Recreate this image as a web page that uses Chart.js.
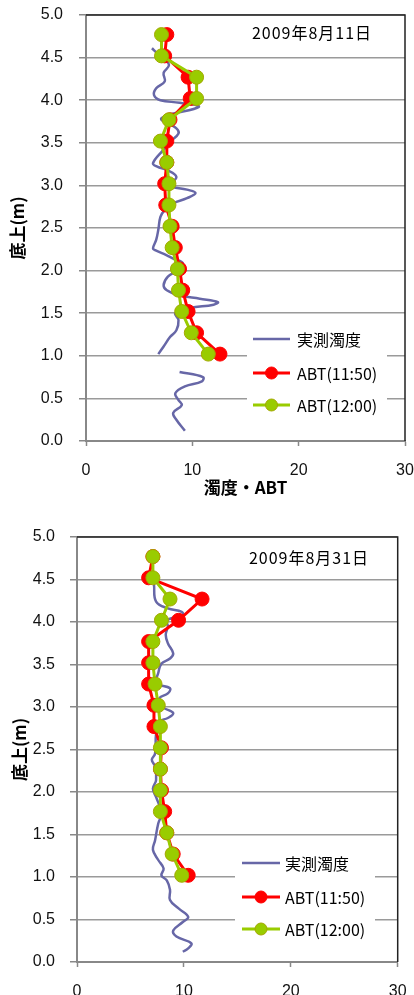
<!DOCTYPE html>
<html lang="ja">
<head>
<meta charset="utf-8">
<title>濁度・ABT</title>
<script src="https://cdn.jsdelivr.net/npm/chart.js@4.4.1/dist/chart.umd.min.js"></script>
<style>
  html, body { margin: 0; padding: 0; background: #fff; overflow: hidden; }
  body { width: 414px; height: 995px; position: relative; }
  .chart-box { position: absolute; left: 0; width: 414px; height: 510px; }
  #box1 { top: 0; }
  #box2 { top: 522px; }
</style>
</head>
<body>
<div class="chart-box" id="box1"><canvas id="chart1" width="414" height="510"></canvas></div>
<div class="chart-box" id="box2"><canvas id="chart2" width="414" height="510"></canvas></div>
<script>
// ABT sampling heights (m above bottom), shared by both days
const abtHeights = [4.77, 4.52, 4.27, 4.02, 3.77, 3.52, 3.27, 3.02, 2.77, 2.52, 2.27, 2.02, 1.77, 1.52, 1.27, 1.02];

// 2009-08-11
const abt1150_0811 = [7.6, 7.4, 9.6, 9.8, 7.9, 7.6, 7.6, 7.4, 7.5, 8.1, 8.4, 8.8, 9.1, 9.6, 10.4, 12.6];
const abt1200_0811 = [7.1, 7.1, 10.4, 10.4, 7.8, 7.0, 7.6, 7.8, 7.8, 7.9, 8.1, 8.6, 8.7, 9.0, 9.9, 11.5];
// measured turbidity profile (null = no data)
const turbHeights_0811 = [4.61, 4.55, 4.48, 4.41, 4.32, 4.22, 4.14, 4.06, 4.00, 3.97, 3.92, 3.79, 3.67, 3.61, 3.51, 3.42,
  3.26, 3.22, 3.18, 3.10, 3.00, 2.95, 2.91, 2.85, 2.79, 2.71, 2.63, 2.48, 2.36, 2.26, 2.24, 2.18, 2.14, 2.10, 2.05,
  1.99, 1.93, 1.83, 1.77, 1.71, 1.67, 1.63, 1.60, 1.56, 1.50, 1.42, 1.30, 1.22, 1.11, 1.02, null,
  0.81, 0.75, 0.70, 0.64, 0.56, 0.48, 0.42, 0.33, 0.25, 0.12];
const turb_0811 = [6.2, 6.7, 7.4, 7.8, 7.3, 7.4, 6.6, 6.4, 7.0, 8.8, 10.6, 7.1, 8.5, 8.7, 7.9, 7.3,
  6.3, 6.7, 7.6, 8.5, 7.9, 9.5, 10.3, 9.5, 8.2, 7.4, 7.0, 6.8, 6.6, 6.3, 6.5, 7.6, 8.2, 9.0, 9.1,
  8.5, 7.7, 7.3, 7.6, 8.8, 10.7, 12.4, 12.0, 9.8, 8.4, 8.7, 8.5, 7.9, 7.3, 6.8, null,
  8.8, 11.0, 10.9, 9.3, 8.4, 8.7, 9.0, 8.2, 8.5, 9.3];

// 2009-08-31
const abt1150_0831 = [7.1, 6.7, 11.7, 9.5, 6.7, 6.7, 6.7, 7.2, 7.2, 7.9, 7.8, 7.9, 8.2, 8.4, 9.0, 10.4];
const abt1200_0831 = [7.1, 7.1, 8.7, 7.9, 7.1, 7.1, 7.3, 7.6, 7.8, 7.8, 7.8, 7.8, 7.8, 8.4, 8.9, 9.8];
const turbHeights_0831 = [4.44, 4.24, 4.16, 4.12, 4.08, 4.02, 3.95, 3.85, 3.75, 3.63, 3.57, 3.51, 3.40, 3.28, 3.22,
  3.16, 3.10, 3.00, 2.93, 2.87, 2.83, 2.69, 2.45, 2.38, 2.30, 2.14, 2.04, 1.94, 1.75, 1.63, 1.43, 1.32, 1.20,
  1.10, 1.02, 0.96, 0.85, 0.73, 0.63, 0.53, 0.47, 0.37, 0.30, 0.22, 0.16, 0.12];
const turb_0831 = [7.2, 7.4, 8.5, 9.8, 9.9, 8.4, 8.5, 8.3, 8.5, 9.0, 8.7, 7.9, 7.6, 7.4, 8.7,
  8.5, 7.7, 8.0, 9.0, 8.5, 7.7, 7.4, 7.3, 7.0, 7.3, 7.4, 7.1, 7.4, 7.9, 7.6, 7.3, 7.1, 7.6,
  8.1, 7.9, 8.4, 8.7, 8.7, 9.5, 10.4, 9.9, 9.0, 9.3, 10.7, 10.4, 9.9];

const xTicks = [0, 10, 20, 30];
const yTicks = [0, 0.5, 1, 1.5, 2, 2.5, 3, 3.5, 4, 4.5, 5];

const seriesNames = ['実測濁度', 'ABT(11:50)', 'ABT(12:00)'];

const toPoints = (xs, ys) => ys.map((y, i) => ({ x: xs[i], y: y }));

const jpFont = '"Noto Sans CJK JP", "Noto Sans", sans-serif';
const numFont = '"Liberation Sans", Arial, sans-serif';

// draws date label, in-plot legend and the frame (top/right)
const decoPlugin = {
    id: 'deco',
    beforeDatasetsDraw(chart, args, opts) {
        const { ctx } = chart;
        const L = opts.legend;
        ctx.save();
        ctx.fillStyle = '#ffffff';
        ctx.fillRect(L.x, L.y, L.w, L.h);

        chart.data.datasets.forEach((ds, i) => {
            const y = L.rows[i];
            ctx.strokeStyle = ds.borderColor;
            ctx.lineWidth = ds.borderWidth;
            ctx.beginPath();
            ctx.moveTo(L.lineX0, y);
            ctx.lineTo(L.lineX1, y);
            ctx.stroke();
            if (ds.pointRadius > 0) {
                ctx.fillStyle = ds.pointBackgroundColor;
                ctx.strokeStyle = ds.pointBorderColor;
                ctx.lineWidth = 1;
                ctx.beginPath();
                ctx.arc((L.lineX0 + L.lineX1) / 2, y, 6, 0, Math.PI * 2);
                ctx.fill();
                ctx.stroke();
            }
            ctx.fillStyle = '#000';
            ctx.font = '16px ' + jpFont;
            ctx.textAlign = 'left';
            ctx.textBaseline = 'middle';
            ctx.fillText(ds.label, L.textX, y + 1);
        });

        ctx.fillStyle = '#000';
        ctx.font = '16px ' + jpFont;
        ctx.letterSpacing = '1px';
        ctx.textAlign = 'center';
        ctx.textBaseline = 'middle';
        ctx.fillText(opts.date, opts.dateX, opts.dateY);
        ctx.restore();
    },
    afterDraw(chart) {
        const { ctx, chartArea: a } = chart;
        ctx.save();
        ctx.strokeStyle = '#222';
        ctx.lineWidth = 1.5;
        ctx.beginPath();
        ctx.moveTo(a.left, a.top);
        ctx.lineTo(a.right, a.top);
        ctx.lineTo(a.right, a.bottom);
        ctx.stroke();
        ctx.restore();
    }
};

function makeChart(canvasId, cfg) {
    const ctx = document.getElementById(canvasId).getContext('2d');
    return new Chart(ctx, {
        type: 'scatter',
        data: {
            datasets: [{
                label: seriesNames[0],
                data: toPoints(cfg.turb, cfg.turbHeights),
                showLine: true,
                borderColor: '#6767a7',
                borderWidth: 2.5,
                pointRadius: 0,
                tension: 0.4,
                order: 3
            }, {
                label: seriesNames[1],
                data: toPoints(cfg.abt1150, abtHeights),
                showLine: true,
                borderColor: '#ff0000',
                borderWidth: 3,
                pointRadius: 7,
                pointBackgroundColor: '#ff0000',
                pointBorderColor: '#ff0000',
                pointBorderWidth: 1,
                order: 2
            }, {
                label: seriesNames[2],
                data: toPoints(cfg.abt1200, abtHeights),
                showLine: true,
                borderColor: '#99cc00',
                borderWidth: 3,
                pointRadius: 7,
                pointBackgroundColor: '#99cc00',
                pointBorderColor: '#a3a800',
                pointBorderWidth: 1,
                order: 1
            }]
        },
        options: {
            responsive: false,
            animation: false,
            layout: { padding: { top: 15, right: cfg.padRight, left: 0, bottom: 0 } },
            plugins: {
                legend: { display: false },
                tooltip: { enabled: false },
                deco: { date: cfg.date, dateX: cfg.dateX, dateY: cfg.dateY, legend: cfg.legend }
            },
            scales: {
                x: {
                    type: 'linear',
                    min: 0,
                    max: 30,
                    afterFit: (scale) => {
                        scale.height = cfg.xAxisHeight;
                        // keep the plot edges where they are, labels may overhang
                        scale.paddingLeft = 0;
                        scale.paddingRight = 0;
                    },
                    afterBuildTicks: (scale) => { scale.ticks = xTicks.map(v => ({ value: v })); },
                    grid: { drawOnChartArea: false, drawTicks: true, tickLength: 5, tickColor: '#888', tickWidth: 1.5 },
                    border: { display: true, color: '#888', width: 2 },
                    ticks: { color: '#111', padding: 15, font: { family: numFont, size: 16 }, maxRotation: 0 },
                    title: {
                        display: true,
                        text: '濁度・ABT',
                        color: '#000',
                        font: { family: jpFont, size: 17, weight: 'bold' },
                        padding: { top: 0, bottom: 12 }
                    }
                },
                y: {
                    type: 'linear',
                    min: 0,
                    max: 5,
                    afterFit: (scale) => {
                        scale.width = cfg.yAxisWidth;
                        scale.paddingTop = 0;
                        scale.paddingBottom = 0;
                    },
                    afterBuildTicks: (scale) => { scale.ticks = yTicks.map(v => ({ value: v })); },
                    grid: { color: '#9a9a9a', lineWidth: 1.5, drawTicks: true, tickLength: 7, tickColor: '#888' },
                    border: { display: true, color: '#888', width: 2 },
                    ticks: {
                        color: '#111',
                        padding: cfg.yTickPad,
                        font: { family: numFont, size: 16 },
                        callback: (v) => Number(v).toFixed(1)
                    },
                    title: {
                        display: true,
                        text: '底上(m)',
                        color: '#000',
                        font: { family: jpFont, size: 17, weight: 'bold' },
                        padding: { top: cfg.yTitlePad, bottom: 0 }
                    }
                }
            }
        },
        plugins: [decoPlugin]
    });
}

makeChart('chart1', {
    turb: turb_0811, turbHeights: turbHeights_0811,
    abt1150: abt1150_0811, abt1200: abt1200_0811,
    date: '2009年8月11日', dateX: 312, dateY: 33,
    yAxisWidth: 86, xAxisHeight: 69, padRight: 9, yTickPad: 16, yTitlePad: 7,
    legend: { x: 247, y: 323, w: 140, h: 97, rows: [339, 373, 405], lineX0: 253, lineX1: 290, textX: 297 }
});

makeChart('chart2', {
    turb: turb_0831, turbHeights: turbHeights_0831,
    abt1150: abt1150_0831, abt1200: abt1200_0831,
    date: '2009年8月31日', dateX: 309, dateY: 36,
    yAxisWidth: 77, xAxisHeight: 70, padRight: 16.3, yTickPad: 15, yTitlePad: 9,
    legend: { x: 235, y: 325, w: 140, h: 97, rows: [341, 375, 407], lineX0: 242, lineX1: 280, textX: 285 }
});
</script>
</body>
</html>
